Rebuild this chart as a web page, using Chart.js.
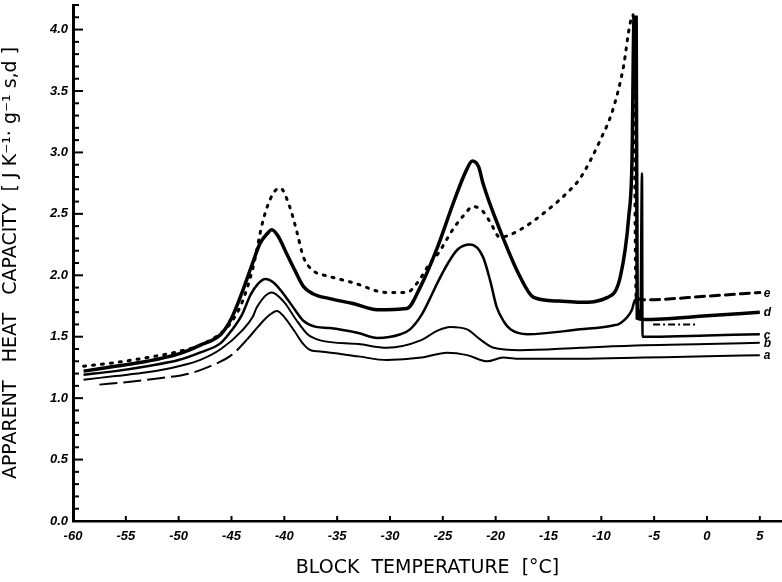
<!DOCTYPE html>
<html>
<head>
<meta charset="utf-8">
<script src="https://cdn.jsdelivr.net/npm/chart.js@4.4.1/dist/chart.umd.min.js"></script>
<style>
  html, body { margin: 0; padding: 0; background: #fff; }
  #wrap { width: 782px; height: 582px; }
</style>
</head>
<body>
<div id="wrap"><canvas id="chart" width="782" height="582"></canvas></div>
<script>
// --- Data (block temperature in degC, heat capacity in J K-1 g-1) ---
const aTemp = [-57.5, -55, -52, -49, -47, -45, -43.5, -42.5, -41.5, -40.7, -40, -39, -38.2, -37.5, -36.6, -33, -30.3, -27, -24.6, -22.7, -20.8, -19.3, -17.7, -12, -6, 0, 5];
const aCap  = [1.11, 1.13, 1.16, 1.20, 1.26, 1.35, 1.48, 1.58, 1.67, 1.71, 1.66, 1.54, 1.44, 1.39, 1.38, 1.34, 1.31, 1.33, 1.37, 1.35, 1.30, 1.33, 1.32, 1.32, 1.33, 1.34, 1.35];

const bTemp = [-59, -56, -53, -50, -48, -46, -44, -43, -42.6, -41.2, -40, -38.9, -37.8, -36.6, -33, -30.3, -27.1, -25.5, -24.3, -22.7, -21.5, -20.2, -17.7, -12, -6, 0, 5];
const bCap  = [1.15, 1.18, 1.21, 1.26, 1.31, 1.40, 1.55, 1.66, 1.74, 1.86, 1.78, 1.64, 1.52, 1.47, 1.44, 1.41, 1.47, 1.55, 1.58, 1.56, 1.48, 1.41, 1.39, 1.41, 1.43, 1.44, 1.45];

const cTemp = [-59, -56, -53, -50, -48, -46, -45, -44, -43.2, -42.5, -41.8, -41, -40, -39, -38.2, -37, -35.7, -33, -31.2, -29, -28.1, -27, -26, -25.5, -24.5, -23.6, -22.4, -21.2, -20.5, -19.9, -19.2, -18.6, -17, -12, -9, -8.2, -7.1, -6.8, -6.3, -6.15, -6.1, -5, 0, 5];
const cCap  = [1.19, 1.22, 1.26, 1.31, 1.37, 1.45, 1.55, 1.68, 1.84, 1.93, 1.97, 1.94, 1.84, 1.72, 1.63, 1.58, 1.57, 1.53, 1.49, 1.52, 1.56, 1.68, 1.85, 1.94, 2.10, 2.21, 2.25, 2.15, 1.95, 1.74, 1.62, 1.56, 1.52, 1.56, 1.59, 1.61, 1.72, 1.80, 1.66, 2.83, 1.50, 1.50, 1.51, 1.52];

const dTemp = [-59, -56, -53, -50, -48, -46, -45, -44, -43, -42.3, -41.6, -41.2, -40.6, -39.8, -39, -38.2, -37.3, -35.7, -33.5, -31.2, -28.4, -27.1, -25.5, -24, -22.8, -22.2, -21.6, -21.2, -19.6, -17.7, -16.4, -14, -12, -9.4, -8.2, -7.4, -7.1, -6.9, -6.7, -6.6, -6, 0, 5];
const dCap  = [1.22, 1.26, 1.30, 1.36, 1.43, 1.52, 1.65, 1.86, 2.10, 2.26, 2.34, 2.37, 2.32, 2.18, 2.04, 1.91, 1.85, 1.81, 1.77, 1.72, 1.73, 1.91, 2.23, 2.59, 2.85, 2.93, 2.88, 2.75, 2.37, 1.99, 1.82, 1.79, 1.78, 1.82, 1.99, 2.48, 2.92, 4.10, 4.10, 1.65, 1.64, 1.67, 1.70];

const eTemp = [-59, -56, -53, -50, -48, -46, -45, -44, -43, -42, -41.1, -40.4, -39.5, -38.8, -38.2, -37.3, -35.7, -33.5, -30.3, -28.4, -27.4, -26.2, -25.5, -24, -23.1, -22.1, -21.2, -20.5, -19.6, -17.7, -15.1, -12.9, -12, -10.1, -8.9, -7.9, -7.3, -7.0, -6.7, -6, 0, 5];
const eCap  = [1.26, 1.29, 1.33, 1.38, 1.43, 1.53, 1.62, 1.78, 2.05, 2.45, 2.66, 2.71, 2.56, 2.35, 2.15, 2.04, 1.99, 1.94, 1.86, 1.86, 1.94, 2.10, 2.17, 2.38, 2.48, 2.56, 2.52, 2.43, 2.31, 2.37, 2.53, 2.70, 2.79, 3.10, 3.35, 3.70, 4.04, 4.12, 1.82, 1.80, 1.83, 1.86];

// short dash-dot piece between d and c just above melting
const extraTemp = [-5.1, -0.9];
const extraCap  = [1.60, 1.60];

const curveNames = ['a', 'b', 'c', 'd', 'e'];
const xTicks = [-60, -55, -50, -45, -40, -35, -30, -25, -20, -15, -10, -5, 0, 5];
const yTicks = [0.0, 0.5, 1.0, 1.5, 2.0, 2.5, 3.0, 3.5, 4.0];

function pts(xs, ys) {
    return xs.map((x, i) => ({x: x, y: ys[i]}));
}

// inward tick marks on both axes + curve letters at the right end
const axisDecor = {
    id: 'axisDecor',
    afterDraw(chart) {
        const ctx = chart.ctx;
        const xs = chart.scales.x, ys = chart.scales.y;
        const left = chart.chartArea.left, bottom = chart.chartArea.bottom;
        ctx.save();
        ctx.strokeStyle = '#000';
        ctx.lineWidth = 2;
        // y minor ticks every 0.1, longer at the labelled ones
        for (let i = 0; i <= 42; i++) {
            const py = ys.getPixelForValue(i / 10);
            const len = (i % 5 === 0) ? 10 : 6;
            ctx.beginPath();
            ctx.moveTo(left, py);
            ctx.lineTo(left + len, py);
            ctx.stroke();
        }
        xTicks.forEach(v => {
            const px = xs.getPixelForValue(v);
            ctx.beginPath();
            ctx.moveTo(px, bottom);
            ctx.lineTo(px, bottom - 5);
            ctx.stroke();
        });
        // curve letters
        ctx.fillStyle = '#000';
        ctx.font = 'bold italic 12px "Liberation Sans"';
        ctx.textBaseline = 'middle';
        curveNames.forEach((name, i) => {
            const meta = chart.getDatasetMeta(i);
            const last = meta.data[meta.data.length - 1];
            ctx.fillText(name, last.x + 4, last.y + 1);
        });
        ctx.restore();
    }
};

const tickFont = {family: '"Liberation Sans"', size: 13, style: 'italic', weight: 'bold'};
const titleFont = {family: '"DejaVu Sans"', size: 19};

new Chart(document.getElementById('chart').getContext('2d'), {
    type: 'scatter',
    data: {
        datasets: [
            {label: 'a', data: pts(aTemp, aCap), borderWidth: 2,
             segment: {borderDash: c => c.p0.parsed.x < -44 ? [18, 6] : undefined}},
            {label: 'b', data: pts(bTemp, bCap), borderWidth: 2},
            {label: 'c', data: pts(cTemp, cCap), borderWidth: 2.5},
            {label: 'd', data: pts(dTemp, dCap), borderWidth: 3.5},
            {label: 'e', data: pts(eTemp, eCap), borderWidth: 3, borderCapStyle: 'round',
             segment: {borderDash: c => c.p0.parsed.x >= -6.7 ? [9, 6] : [2, 7]}},
            {label: 'extra', data: pts(extraTemp, extraCap), borderWidth: 2, borderDash: [7, 3, 2, 3]}
        ].map(ds => Object.assign({showLine: true, borderColor: '#000', pointRadius: 0, cubicInterpolationMode: 'monotone'}, ds))
    },
    options: {
        responsive: false,
        animation: false,
        layout: {padding: {top: 5, right: 0, left: 0, bottom: 0}},
        plugins: {legend: {display: false}, tooltip: {enabled: false}},
        scales: {
            x: {
                type: 'linear', min: -60, max: 7.1,
                afterFit: s => { s.height = 61; s.paddingRight = 0; },
                afterBuildTicks: s => { s.ticks = xTicks.map(v => ({value: v})); },
                grid: {drawOnChartArea: false, drawTicks: false},
                border: {color: '#000', width: 2.5},
                ticks: {color: '#000', font: tickFont, padding: 8, maxRotation: 0, callback: v => String(v)},
                title: {display: true, text: 'BLOCK  TEMPERATURE  [°C]', color: '#000', font: titleFont, padding: {top: 0, bottom: 3}}
            },
            y: {
                type: 'linear', min: 0, max: 4.2,
                afterFit: s => { s.width = 73; s.paddingTop = 0; },
                afterBuildTicks: s => { s.ticks = yTicks.map(v => ({value: v})); },
                grid: {drawOnChartArea: false, drawTicks: false},
                border: {color: '#000', width: 3},
                ticks: {color: '#000', font: tickFont, padding: 5, callback: v => v.toFixed(1)},
                title: {display: true, text: 'APPARENT   HEAT   CAPACITY  [ J K⁻¹· g⁻¹ s,d ]', color: '#000', font: titleFont, padding: {top: 0, bottom: 2}}
            }
        }
    },
    plugins: [axisDecor]
});
</script>
</body>
</html>
